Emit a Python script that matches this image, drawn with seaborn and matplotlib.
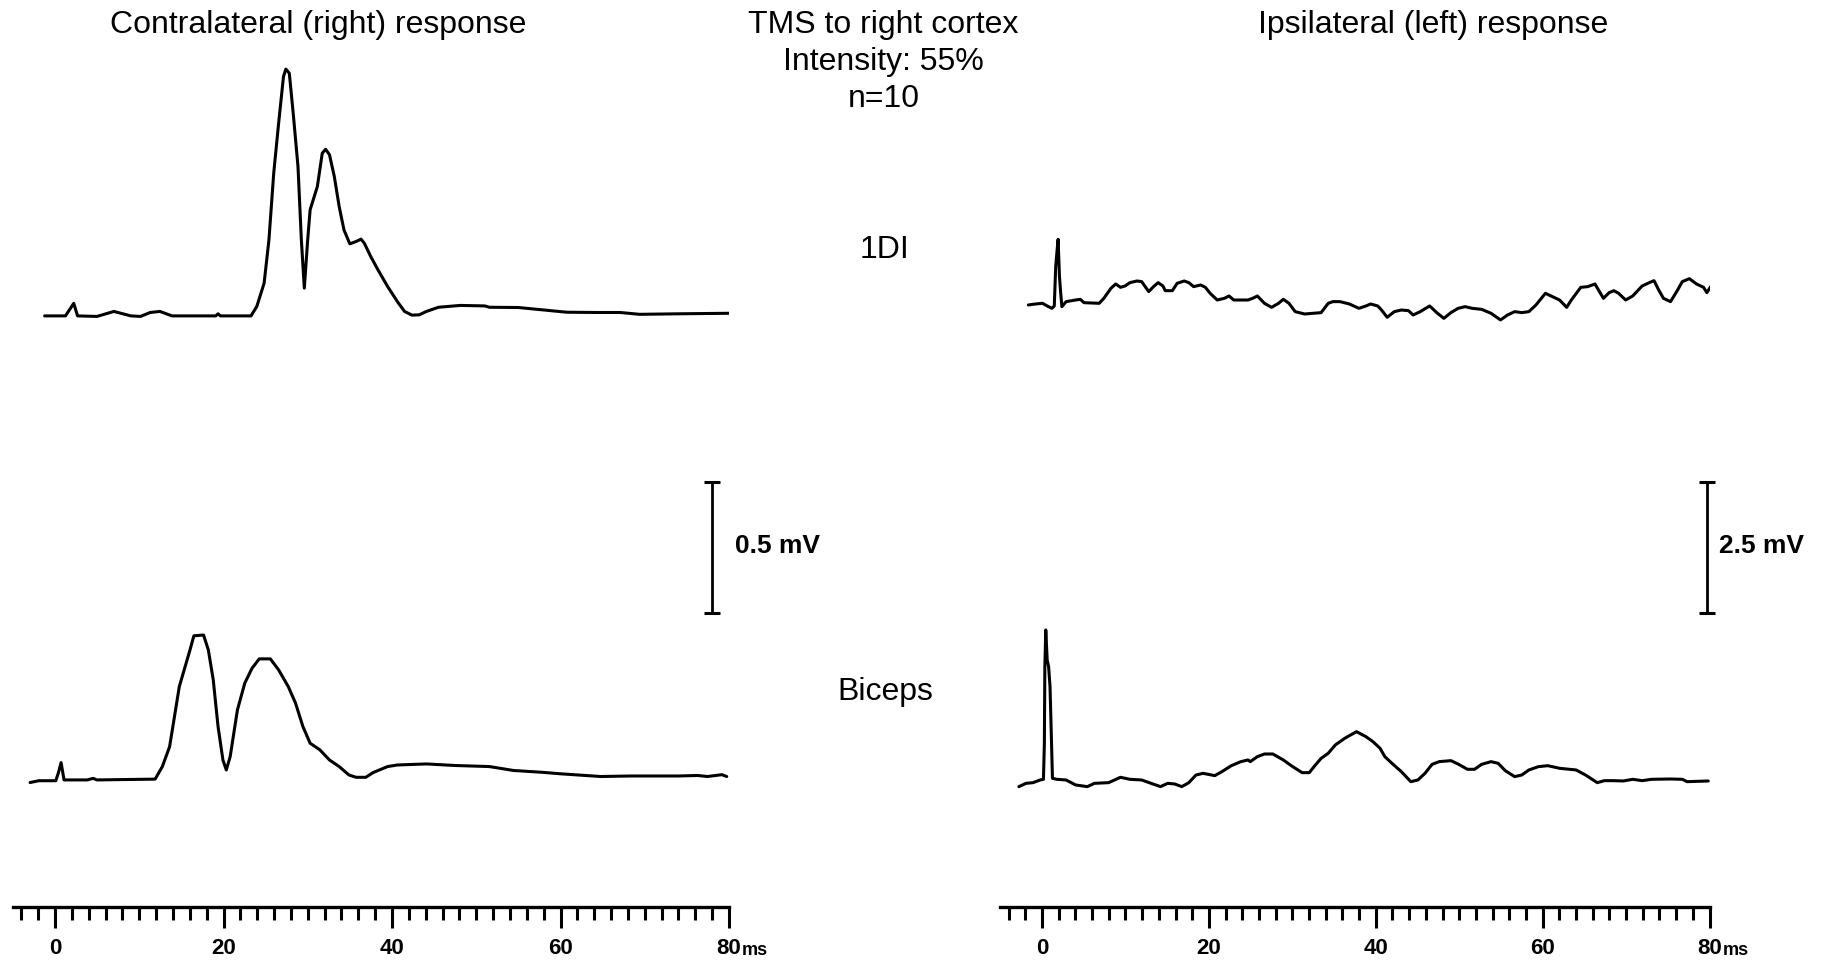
import numpy as np
import pandas as pd
import matplotlib
matplotlib.use("Agg")
import matplotlib.pyplot as plt
from matplotlib import font_manager
from matplotlib.ticker import FixedLocator, FixedFormatter, MultipleLocator
import seaborn as sns

# ---------------------------------------------------------------------------
# Averaged EMG responses (n=10) to TMS of the right cortex, 55% intensity.
# Time in ms after the stimulus, amplitude in mV above the pre-stimulus level.
# ---------------------------------------------------------------------------
contra_fdi_t = [-1.23, 1.24, 2.22, 2.68, 4.98, 6.99, 9.00, 10.15, 11.30, 12.45,
                13.89, 19.07, 19.35, 19.64, 23.26, 23.95, 24.82, 25.39, 25.96, 26.54,
                27.12, 27.40, 27.81, 28.27, 28.84, 29.24, 29.59, 29.99, 30.28, 31.14,
                31.72, 32.12, 32.58, 33.15, 33.73, 34.30, 34.99, 35.74, 36.32, 36.72,
                37.47, 38.33, 39.48, 40.63, 41.49, 42.36, 43.22, 44.08, 45.52, 48.11,
                51.03, 51.56, 55.00, 57.88, 60.76, 64.21, 67.08, 69.38, 74.03, 80.02]
contra_fdi_mv = [-0.002, -0.002, 0.046, -0.002, -0.004, 0.015, -0.002, -0.004, 0.011, 0.015,
                 -0.002, -0.002, 0.006, -0.002, -0.002, 0.034, 0.123, 0.288, 0.543, 0.733,
                 0.912, 0.940, 0.924, 0.772, 0.568, 0.288, 0.104, 0.288, 0.403, 0.492,
                 0.619, 0.634, 0.613, 0.530, 0.415, 0.326, 0.273, 0.282, 0.291, 0.275,
                 0.225, 0.174, 0.110, 0.053, 0.015, 0.001, 0.002, 0.015, 0.031, 0.038,
                 0.036, 0.031, 0.030, 0.021, 0.012, 0.011, 0.011, 0.004, 0.006, 0.008]

contra_bic_t = [-2.96, -1.92, 0.09, 0.38, 0.72, 1.07, 3.83, 4.52, 4.98, 11.88,
                12.74, 13.60, 14.18, 14.75, 15.33, 16.02, 16.48, 17.63, 18.20, 18.78,
                19.35, 19.93, 20.33, 20.79, 21.65, 22.52, 23.38, 24.24, 25.56, 26.54,
                27.69, 28.55, 29.42, 30.28, 31.43, 32.58, 33.73, 34.88, 35.74, 36.89,
                37.75, 39.48, 40.63, 44.08, 47.53, 51.56, 54.43, 57.88, 60.18, 64.78,
                68.23, 73.98, 76.28, 77.43, 79.16, 79.73]
contra_bic_mv = [-0.010, -0.003, -0.003, 0.025, 0.066, 0.000, 0.000, 0.006, 0.000, 0.003,
                 0.051, 0.127, 0.242, 0.356, 0.420, 0.496, 0.550, 0.553, 0.496, 0.382,
                 0.204, 0.076, 0.038, 0.089, 0.267, 0.369, 0.426, 0.462, 0.462, 0.420,
                 0.356, 0.293, 0.204, 0.140, 0.115, 0.076, 0.051, 0.019, 0.010, 0.010,
                 0.028, 0.051, 0.057, 0.061, 0.055, 0.051, 0.036, 0.029, 0.023, 0.013,
                 0.015, 0.015, 0.017, 0.013, 0.020, 0.013]

ipsi_fdi_t = [-1.64, -0.79, 0.06, 0.62, 1.19, 1.47, 1.64, 1.81, 1.93, 2.09,
              2.21, 2.38, 2.89, 4.02, 4.59, 5.04, 6.85, 7.41, 8.26, 8.83,
              9.40, 9.96, 10.53, 11.38, 11.94, 12.79, 13.36, 13.92, 14.49, 14.77,
              15.62, 16.19, 17.04, 17.60, 18.17, 19.02, 19.58, 20.15, 21.00, 21.85,
              22.41, 22.98, 24.68, 25.24, 25.81, 26.66, 27.51, 28.35, 28.92, 29.60,
              30.34, 31.47, 33.45, 34.30, 34.86, 35.71, 36.84, 37.98, 38.82, 39.39,
              40.24, 40.69, 41.37, 42.22, 43.07, 43.92, 44.48, 45.33, 46.46, 47.31,
              48.16, 49.01, 49.86, 50.71, 51.56, 52.69, 53.82, 54.95, 55.80, 56.65,
              57.50, 58.35, 59.20, 60.33, 61.18, 62.03, 62.88, 63.44, 64.57, 65.42,
              66.27, 67.29, 67.97, 68.54, 69.10, 69.95, 70.80, 71.93, 72.78, 73.35,
              73.91, 74.48, 75.33, 76.18, 76.74, 77.59, 78.44, 79.29, 79.68, 80.14]
ipsi_fdi_mv = [-0.019, 0.000, 0.013, -0.038, -0.083, -0.038, 0.712, 1.031, 1.234, 0.522,
               0.267, -0.051, 0.045, 0.076, 0.089, 0.025, 0.013, 0.108, 0.299, 0.382,
               0.318, 0.344, 0.407, 0.439, 0.427, 0.236, 0.331, 0.407, 0.344, 0.254,
               0.254, 0.394, 0.439, 0.407, 0.331, 0.363, 0.318, 0.204, 0.076, 0.108,
               0.153, 0.076, 0.076, 0.108, 0.153, 0.013, -0.064, 0.013, 0.089, 0.013,
               -0.146, -0.191, -0.165, 0.013, 0.045, 0.045, 0.000, -0.083, -0.038, 0.000,
               -0.038, -0.115, -0.254, -0.146, -0.115, -0.127, -0.210, -0.146, -0.038, -0.165,
               -0.274, -0.165, -0.083, -0.051, -0.083, -0.102, -0.178, -0.305, -0.210, -0.146,
               -0.165, -0.146, -0.019, 0.204, 0.140, 0.076, -0.064, 0.076, 0.318, 0.331,
               0.382, 0.108, 0.216, 0.254, 0.204, 0.076, 0.153, 0.344, 0.407, 0.445,
               0.267, 0.108, 0.045, 0.267, 0.427, 0.483, 0.382, 0.318, 0.216, 0.331]

ipsi_bic_t = [-2.77, -1.92, -1.07, -0.23, 0.17, 0.28, 0.34, 0.45, 0.62, 0.79,
              0.96, 1.13, 1.25, 1.76, 2.89, 4.02, 5.43, 6.28, 7.98, 9.40,
              10.53, 11.94, 13.07, 14.21, 15.05, 15.90, 16.75, 17.60, 18.45, 19.30,
              20.71, 21.56, 22.69, 23.83, 24.68, 24.96, 25.81, 26.66, 27.67, 28.92,
              30.05, 31.18, 32.03, 32.60, 33.45, 34.30, 35.15, 36.28, 37.69, 38.82,
              39.67, 40.52, 41.09, 41.94, 43.07, 44.20, 45.05, 45.90, 46.75, 47.60,
              49.01, 49.86, 50.99, 51.84, 52.69, 53.82, 54.67, 55.52, 56.65, 57.50,
              58.35, 59.48, 60.61, 62.03, 64.01, 65.14, 66.55, 67.40, 68.54, 69.67,
              70.80, 71.93, 73.06, 75.33, 76.74, 77.31, 79.85]
ipsi_bic_mv = [-0.127, -0.064, -0.051, 0.000, 0.013, 0.687, 2.163, 2.863, 2.290, 2.163,
               1.781, 0.763, 0.032, 0.013, 0.000, -0.095, -0.127, -0.064, -0.051, 0.051,
               0.013, 0.000, -0.064, -0.127, -0.064, -0.076, -0.127, -0.051, 0.095, 0.127,
               0.083, 0.159, 0.273, 0.350, 0.382, 0.350, 0.445, 0.496, 0.496, 0.382,
               0.254, 0.140, 0.140, 0.254, 0.413, 0.509, 0.668, 0.795, 0.922, 0.827,
               0.731, 0.604, 0.445, 0.318, 0.159, -0.032, 0.000, 0.127, 0.299, 0.350,
               0.369, 0.305, 0.204, 0.204, 0.299, 0.350, 0.318, 0.178, 0.064, 0.095,
               0.191, 0.254, 0.273, 0.223, 0.191, 0.095, -0.051, -0.013, -0.013, -0.019,
               0.013, -0.013, 0.013, 0.019, 0.013, -0.032, -0.019]

major_ticks = [0, 20, 40, 60, 80]
major_labels = ["0", "20", "40", "60", "80"]
scale_bar_mv = {"contra": 0.5, "ipsi": 2.5}

# ---------------------------------------------------------------------------
W, H = 1830, 965
sns.set_theme(style="ticks")
plt.rcParams["font.family"] = ["Liberation Sans", "DejaVu Sans"]

available = {f.name for f in font_manager.fontManager.ttflist}
tick_family = ["Liberation Sans Narrow", "Liberation Sans"] if "Liberation Sans Narrow" in available \
    else ["Liberation Sans"]

fig = plt.figure(figsize=(W / 100, H / 100), dpi=100, facecolor="white")


def fig_xy(px, py):
    """Pixel position (from the top-left corner) to figure fraction."""
    return px / W, 1 - py / H


# column layout: [left px, right px], shared vertical extent, y-range in mV
top_px, bottom_px = 40, 907
columns = {
    "contra": dict(x0=12.9, x1=729.0, ylim=(-0.485, 2.824), fdi_offset=1.773,
                   fdi=(contra_fdi_t, contra_fdi_mv), bic=(contra_bic_t, contra_bic_mv),
                   bar_x=77.98, bar_y0=0.637, label_x=80.7, label_y=0.893),
    "ipsi": dict(x0=1000.3, x1=1709.5, ylim=(-2.424, 14.122), fdi_offset=9.084,
                 fdi=(ipsi_fdi_t, ipsi_fdi_mv), bic=(ipsi_bic_t, ipsi_bic_mv),
                 bar_x=79.7, bar_y0=3.187, label_x=81.1, label_y=4.466),
}

for name, c in columns.items():
    ax = fig.add_axes([c["x0"] / W, 1 - bottom_px / H, (c["x1"] - c["x0"]) / W,
                       (bottom_px - top_px) / H])
    ax.set_facecolor("none")

    fdi = pd.DataFrame({"t": c["fdi"][0], "mv": np.asarray(c["fdi"][1]) + c["fdi_offset"]})
    bic = pd.DataFrame({"t": c["bic"][0], "mv": c["bic"][1]})
    for df in (fdi, bic):
        sns.lineplot(data=df, x="t", y="mv", ax=ax, color="black", linewidth=2.2,
                     sort=False, estimator=None)

    ax.set_xlim(-5, 80)
    ax.set_ylim(*c["ylim"])
    ax.set_xlabel("")
    ax.set_ylabel("")
    ax.set_yticks([])
    for side in ("left", "top", "right"):
        ax.spines[side].set_visible(False)
    ax.spines["bottom"].set_linewidth(2.4)
    ax.spines["bottom"].set_color("black")

    # time scale: 2 ms minor ticks, labelled every 20 ms
    ax.xaxis.set_major_locator(FixedLocator(major_ticks))
    ax.xaxis.set_major_formatter(FixedFormatter(major_labels))
    ax.xaxis.set_minor_locator(MultipleLocator(2))
    ax.tick_params(axis="x", which="major", length=15, width=2.2, color="black",
                   direction="out", pad=7)
    ax.tick_params(axis="x", which="minor", length=9, width=2.2, color="black",
                   direction="out", bottom=True)
    for lab in ax.get_xticklabels():
        lab.set_fontfamily(tick_family)
        lab.set_fontweight("bold")
        lab.set_fontsize(16)
        lab.set_color("black")

    # unit written straight after the last tick label
    last_label = ax.get_xticklabels()[-1]
    ax.annotate("ms", xy=(1, 0), xycoords=last_label, xytext=(0.5, 0),
                textcoords="offset points", ha="left", va="bottom",
                fontsize=13, fontweight="bold", family=tick_family, color="black",
                annotation_clip=False)

    # amplitude calibration bar
    amp = scale_bar_mv[name]
    bx, by0 = c["bar_x"], c["bar_y0"]
    ax.plot([bx, bx], [by0, by0 + amp], color="black", lw=2.0, clip_on=False,
            solid_capstyle="butt")
    for yy in (by0, by0 + amp):
        ax.plot([bx - 1.0, bx + 1.0], [yy, yy], color="black", lw=2.2, clip_on=False,
                solid_capstyle="butt")
    ax.text(c["label_x"], c["label_y"], f"{amp} mV", ha="left", va="center",
            fontsize=19, fontweight="bold", color="black", clip_on=False)

# headings and muscle names
title_kw = dict(ha="center", va="baseline", fontsize=23, color="black")
fig.text(*fig_xy(318.5, 32.7), "Contralateral (right) response", **title_kw)
fig.text(*fig_xy(1433.6, 32.7), "Ipsilateral (left) response", **title_kw)
fig.text(*fig_xy(883.6, 32.7), "TMS to right cortex", **title_kw)
fig.text(*fig_xy(883.6, 70.0), "Intensity: 55%", **title_kw)
fig.text(*fig_xy(883.6, 107.4), "n=10", **title_kw)
fig.text(*fig_xy(885.0, 258.0), "1DI", **title_kw)
fig.text(*fig_xy(885.0, 700.0), "Biceps", **title_kw)

fig.savefig("out.png", dpi=100, facecolor="white")
